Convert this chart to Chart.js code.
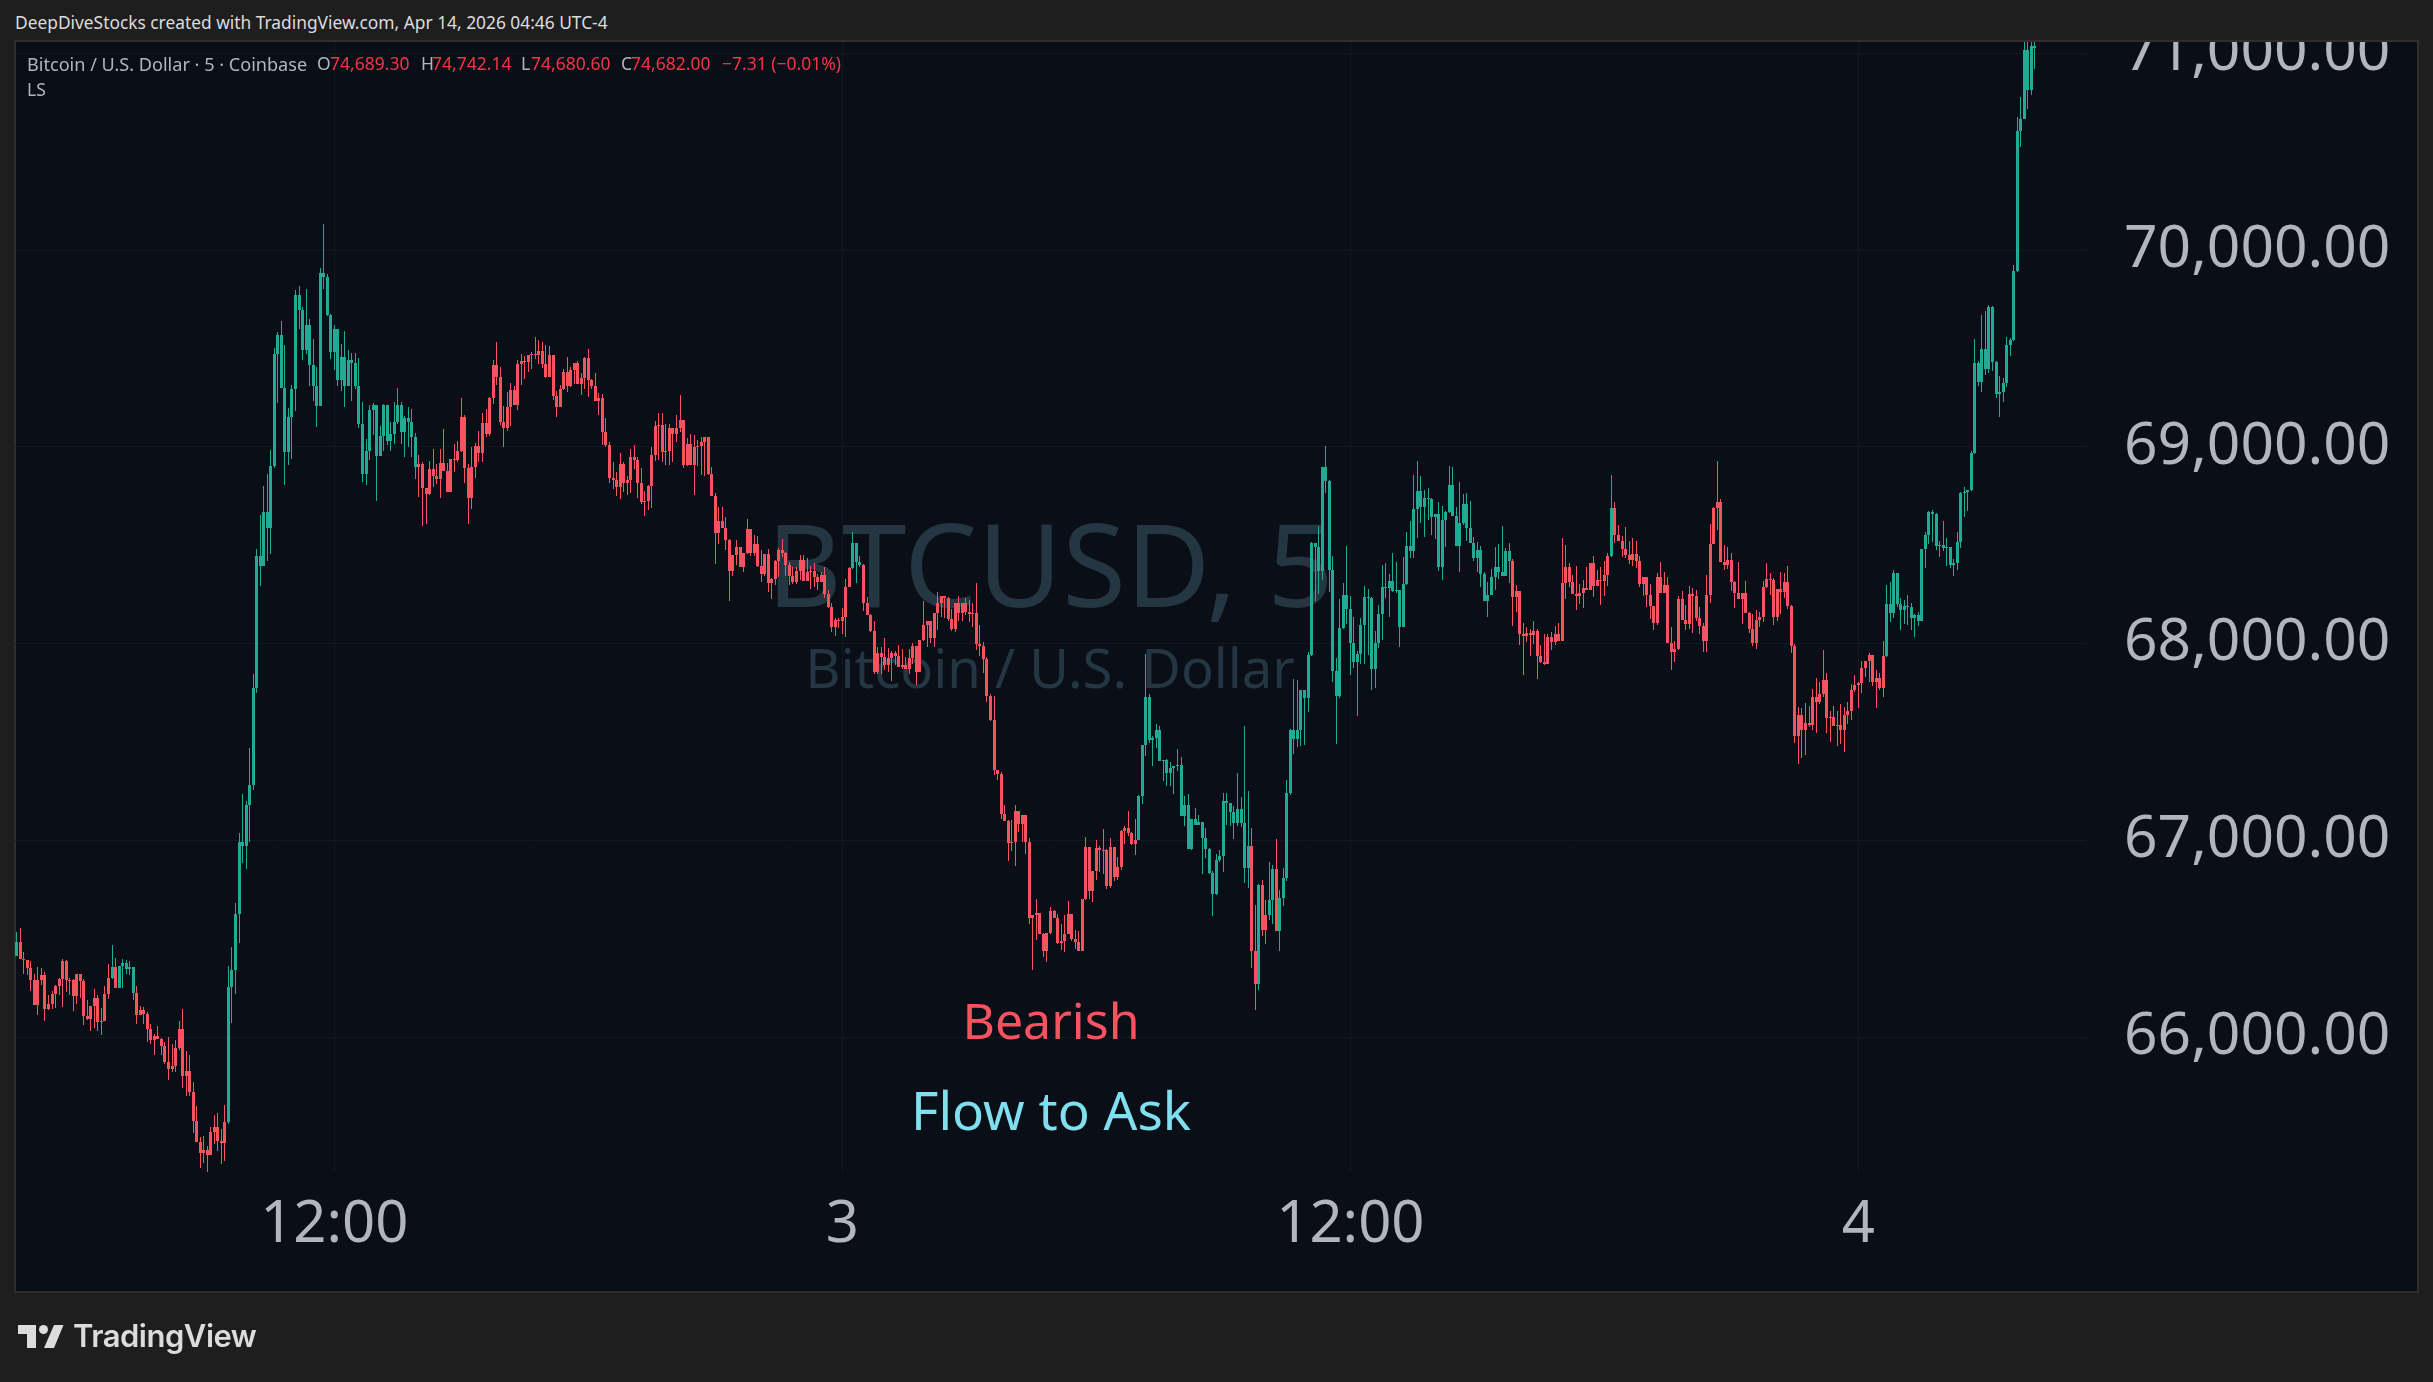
<!DOCTYPE html>
<html><head><meta charset="utf-8"><title>BTCUSD 5</title>
<script src="https://cdn.jsdelivr.net/npm/chart.js@4"></script>
<style>
html,body{margin:0;padding:0;background:#1e1e1e;width:2433px;height:1382px;overflow:hidden;font-family:"Noto Sans",sans-serif}
.a{position:absolute;white-space:nowrap;line-height:1}
#pane{left:14px;top:40px;width:2401px;height:1249px;background:#0a0e17;border:2px solid #2e2e2e;z-index:0}
#cv{position:absolute;left:0;top:0;z-index:1}
#top{left:0;top:0;width:2433px;height:40px;background:#1e1e1e;z-index:2}
#topline{left:14px;top:40px;width:2405px;height:2px;background:#2e2e2e;z-index:2}
.wm{color:#233642;z-index:0;transform:translateX(-50%);left:1050px}
.lg{font-size:17.500px;color:#b2b5be;z-index:3}
.rd{color:#f23645}
.note{z-index:3;font-size:50px;transform:translateX(-50%);left:1051px}
</style></head><body>
<div class="a" id="pane"></div>
<div class="a wm" style="top:504px;font-size:116px">BTCUSD, 5</div>
<div class="a wm" style="top:640px;font-size:54.400px">Bitcoin / U.S. Dollar</div>
<canvas id="cv" width="2433" height="1382"></canvas>
<div class="a" id="top"></div><div class="a" id="topline"></div>
<div class="a lg" style="left:15px;top:14px;color:#dcdcdc;z-index:3;font-size:17.350px">DeepDiveStocks created with TradingView.com, Apr 14, 2026 04:46 UTC-4</div>
<div class="a lg" style="left:27px;top:55px;font-size:18.100px">Bitcoin / U.S. Dollar · 5 · Coinbase</div>
<div class="a lg" style="left:317px;top:55px">O</div><div class="a lg rd" style="left:330px;top:55px">74,689.30</div>
<div class="a lg" style="left:421px;top:55px">H</div><div class="a lg rd" style="left:432px;top:55px">74,742.14</div>
<div class="a lg" style="left:521px;top:55px">L</div><div class="a lg rd" style="left:531px;top:55px">74,680.60</div>
<div class="a lg" style="left:621px;top:55px">C</div><div class="a lg rd" style="left:631px;top:55px">74,682.00</div>
<div class="a lg rd" style="left:722px;top:55px">−7.31 (−0.01%)</div>
<div class="a lg" style="left:27px;top:81px">LS</div>
<div class="a note" style="top:995px;color:#f7525f">Bearish</div>
<div class="a note" style="top:1083px;color:#7fdfee;font-size:53px">Flow to Ask</div>
<svg class="a" style="left:18px;top:1325px;z-index:3" width="46" height="24" viewBox="0 0 46 24"><path fill="#dcdcdc" d="M0 0H18V23H9V9H0ZM36 0H45.500L36 23H26Z"/><circle cx="25.500" cy="4.500" r="4.500" fill="#dcdcdc"/></svg>
<div class="a" style="left:73px;top:1320px;z-index:3;font-family:Inter,sans-serif;font-weight:600;font-size:31px;letter-spacing:-.5px;color:#dcdcdc">TradingView</div>
<script>
const firstOpen = 66413;
const closes = [
66484,66398,66393,66352,66291,66164,66291,66317,66144,66169,
66220,66261,66296,66388,66291,66290,66210,66322,66286,66108,
66093,66159,66200,66078,66083,66220,66302,66357,66251,66363,
66378,66347,66357,66225,66113,66139,66119,66042,65986,66007,
65992,65956,65875,65839,65854,65946,66042,65803,65829,65722,
65575,65468,65412,65427,65402,65519,65544,65473,65463,65570,
66256,66342,66627,66991,66971,67180,67281,67774,68445,68394,
68669,68587,68903,69473,69570,69300,68975,69153,69295,69773,
69697,69493,69621,69417,69311,69209,69885,69864,69671,69483,
69600,69341,69458,69311,69443,69427,69311,69117,68863,68980,
69189,69214,68955,69056,69214,69031,69067,69128,69214,69077,
69148,69128,69051,68899,68914,68792,68762,68889,68853,68838,
68919,68879,68772,68940,68934,68980,69153,68894,68741,68899,
69006,68970,69123,69067,69250,69417,69356,69128,69097,69204,
69290,69214,69422,69438,69433,69468,69473,69468,69488,69422,
69356,69468,69260,69204,69295,69382,69311,69392,69427,69321,
69351,69453,69341,69311,69234,69250,69077,69011,68843,68833,
68797,68914,68818,68833,68950,68934,68818,68721,68726,68803,
68956,69104,69109,68976,68981,69094,69063,69094,69134,68910,
69012,68910,68997,69002,69022,69048,68864,68752,68563,68624,
68589,68527,68369,68451,68492,68390,68461,68583,68461,68507,
68395,68354,68456,68308,68328,68420,68476,68461,68400,68344,
68313,68369,68425,68318,68364,68369,68339,68313,68349,68252,
68186,68084,68119,68114,68135,68288,68385,68512,68415,68400,
68206,68145,68063,67854,67951,67931,67890,67926,67951,67936,
67880,67890,67870,67926,67987,67854,68017,68094,68114,68028,
68155,68206,68242,68232,68124,68074,68206,68155,68206,68160,
68150,68155,67997,67987,67920,67732,67613,67358,67337,67134,
67098,66987,66992,67149,67083,67129,66992,66606,66621,66631,
66525,66438,66530,66641,66606,66479,66489,66525,66626,66499,
66484,66438,66702,66966,66743,66844,66961,66951,66951,66768,
66966,66814,66865,67047,67063,67037,66981,67002,67225,67484,
67728,67509,67519,67560,67403,67408,67342,67367,67377,67382,
67124,67179,66956,67108,67078,67093,67012,66956,66834,66728,
66900,66921,67200,67190,67144,67088,67159,67088,66860,66971,
66438,66271,66773,66545,66621,66697,66855,66540,66707,66809,
67240,67560,67514,67560,67763,67723,67941,68510,68492,68369,
68895,68828,68374,67859,67732,68079,68247,68175,68002,67905,
67946,68094,68237,68232,67869,68002,68150,68288,68283,68318,
68267,68272,68084,68303,68497,68471,68685,68777,68696,68742,
68737,68645,68660,68390,68629,68670,68808,68650,68497,68614,
68711,68589,68512,68436,68476,68354,68216,68247,68339,68390,
68364,68344,68471,68420,68237,68267,68048,68038,68053,68043,
68063,67936,67905,67895,68033,68007,68048,68012,68308,68390,
68313,68252,68242,68257,68283,68272,68410,68293,68323,68318,
68349,68446,68691,68553,68522,68481,68451,68425,68456,68420,
68303,68339,68247,68191,68104,68339,68257,68298,68002,67956,
67971,68226,68119,68099,68252,68242,68130,68089,68012,68247,
68507,68691,68721,68415,68400,68425,68313,68257,68226,68257,
68155,68073,68002,68119,68135,68288,68328,68323,68135,68277,
68262,68313,68191,67987,67528,67635,67563,67599,67584,67727,
67701,67742,67813,67620,67625,67579,67584,67563,67635,67660,
67762,67788,67798,67875,67910,67941,67803,67824,67773,67936,
68201,68155,68359,68201,68170,68191,68186,68130,68145,68114,
68481,68553,68670,68660,68497,68502,68487,68492,68400,68410,
68517,68767,68772,68782,68966,69428,69327,69499,69393,69712,
69433,69266,69276,69322,69519,69545,69895,70606,70667,71017,
70814,71037,71027];
const highs = [
66537,66556,66434,66393,66388,66322,66357,66352,66332,66215,
66235,66266,66302,66398,66393,66302,66296,66322,66322,66296,
66190,66159,66246,66215,66149,66261,66373,66469,66403,66363,
66398,66393,66388,66357,66261,66159,66154,66129,66068,66017,
66058,65997,65976,66002,65966,65986,66083,66144,65931,65910,
65773,65651,65493,65499,65448,65544,65605,65615,65534,65656,
66363,66459,66683,67036,67235,67200,67469,67845,68481,68653,
68801,68863,68985,69504,69585,69641,69519,69199,69316,69798,
69819,69712,69803,69651,69549,69407,69910,70134,69880,69676,
69621,69600,69524,69590,69493,69478,69478,69453,69229,69041,
69214,69224,69214,69107,69219,69214,69128,69229,69300,69229,
69158,69204,69194,69072,68960,68924,68792,68929,68990,68914,
68990,69092,68919,68940,69016,69031,69250,69163,68914,69001,
69021,69082,69173,69194,69255,69443,69534,69407,69209,69280,
69326,69311,69443,69473,69463,69468,69483,69560,69544,69534,
69519,69514,69468,69285,69316,69397,69458,69407,69427,69438,
69377,69458,69499,69346,69377,69275,69270,69148,69026,68924,
68873,68970,68924,68853,68990,69011,68950,68890,68777,68808,
68997,69129,69170,69170,69114,69114,69094,69160,69262,69134,
69043,69063,69058,69037,69048,69048,69048,68895,68767,68696,
68696,68645,68532,68451,68527,68492,68461,68634,68583,68553,
68548,68476,68456,68481,68334,68425,68487,68532,68466,68415,
68390,68390,68451,68451,68436,68395,68410,68354,68364,68390,
68272,68206,68130,68130,68181,68328,68390,68568,68512,68446,
68405,68237,68150,68114,67982,67982,68028,67977,67961,67961,
67992,67971,67931,67971,68002,67987,68017,68216,68114,68114,
68155,68262,68242,68242,68237,68175,68206,68242,68206,68232,
68221,68206,68308,68094,68007,67931,67742,67734,67358,67347,
67179,67103,67103,67179,67149,67129,67124,67012,66621,66702,
66631,66530,66530,66662,66646,66626,66575,66621,66692,66626,
66545,66540,66702,67017,66961,66844,67002,66971,67058,66956,
67012,66966,66915,67052,67073,67149,67042,67108,67230,67484,
67946,67743,67530,67591,67580,67408,67413,67398,67377,67464,
67423,67225,67235,67108,67164,67129,67093,67063,66961,66844,
66931,66951,67240,67240,67190,67174,67342,67220,67580,67250,
67063,66672,66778,66799,66697,66890,66875,67007,66748,66860,
67306,67565,67819,67814,67763,67763,67956,68517,68492,68599,
68895,69002,68833,68446,67926,68226,68308,68497,68242,68135,
67961,68130,68293,68277,68237,68063,68196,68400,68410,68354,
68461,68415,68272,68441,68568,68624,68859,68930,68854,68782,
68793,68742,68660,68721,68701,68675,68900,68895,68696,68823,
68762,68767,68726,68543,68517,68497,68364,68313,68380,68492,
68507,68599,68487,68512,68430,68298,68267,68104,68084,68073,
68114,68073,67992,68048,68048,68058,68089,68104,68538,68502,
68410,68349,68395,68303,68323,68390,68410,68446,68374,68390,
68420,68461,68859,68721,68604,68548,68594,68522,68538,68522,
68446,68339,68339,68303,68191,68359,68415,68364,68339,68084,
68012,68242,68267,68196,68293,68283,68272,68186,68104,68349,
68609,68696,68930,68737,68502,68492,68461,68318,68415,68257,
68318,68160,68150,68170,68160,68318,68410,68359,68334,68277,
68364,68359,68395,68196,67997,67676,67671,67696,67681,67767,
67824,67803,67966,67849,67655,67681,67655,67691,67676,67701,
67793,67839,67803,67910,67910,67951,67936,67864,67849,68012,
68298,68313,68374,68359,68232,68221,68247,68206,68150,68160,
68481,68568,68675,68680,68663,68522,68624,68538,68487,68430,
68568,68772,68798,68782,68981,69550,69438,69672,69692,69723,
69717,69438,69362,69352,69560,69555,69926,70677,70778,71063,
71068,71068,71100];
const lows = [
66413,66398,66322,66317,66235,66164,66113,66266,66083,66139,
66144,66149,66215,66154,66230,66215,66134,66169,66200,66063,
66088,66032,66047,66032,66012,66083,66195,66296,66251,66256,
66251,66322,66317,66190,66068,66113,66068,65976,65966,65910,
65992,65910,65864,65783,65824,65824,65936,65743,65702,65702,
65514,65468,65336,65361,65316,65402,65458,65422,65356,65372,
65560,66073,66220,66479,66885,66854,66992,67256,67749,68293,
68394,68420,68455,68894,69224,69300,68807,68909,68940,69183,
69600,69443,69473,69311,69234,69102,69209,69803,69666,69448,
69392,69311,69285,69204,69311,69234,69295,69097,68823,68807,
68934,69062,68726,68980,68980,69011,68980,69016,69117,69016,
68950,69001,68950,68838,68746,68600,68610,68757,68797,68812,
68741,68879,68772,68772,68873,68924,68975,68818,68610,68685,
68843,68924,68924,69051,69056,69219,69316,69112,69001,69082,
69107,69214,69189,69316,69346,69382,69397,69448,69422,69402,
69351,69356,69239,69153,69204,69290,69280,69305,69321,69321,
69265,69295,69255,69295,69234,69163,69011,69001,68818,68787,
68751,68736,68772,68757,68767,68889,68741,68711,68646,68680,
68691,68930,68935,68923,68910,68910,68925,69022,69073,68890,
68905,68910,68757,68900,68859,68854,68859,68748,68405,68507,
68589,68476,68216,68344,68400,68390,68364,68456,68446,68446,
68390,68313,68344,68262,68226,68298,68339,68441,68344,68298,
68303,68303,68323,68318,68323,68277,68288,68272,68313,68232,
68181,68058,68038,68079,68048,68033,68288,68380,68308,68390,
68165,68145,68058,67844,67844,67844,67864,67854,67808,67890,
67880,67870,67870,67844,67895,67788,67854,68012,67982,68002,
67982,68068,68135,68130,68114,68063,68058,68114,68114,68145,
68109,68084,67966,67936,67851,67701,67609,67333,67307,67108,
67098,66895,66946,66870,67042,66992,66931,66575,66342,66494,
66525,66408,66382,66525,66606,66474,66443,66433,66525,66489,
66448,66438,66438,66697,66702,66687,66799,66839,66829,66753,
66758,66794,66799,66849,66981,67022,66976,66926,67002,67184,
67428,67494,67377,67469,67403,67301,67276,67276,67235,67352,
67124,67073,66956,66951,67078,67078,66829,66910,66829,66616,
66723,66890,66839,67078,67073,67007,67073,67068,66783,66758,
66352,66139,66240,66514,66474,66596,66575,66540,66438,66667,
66794,67230,67438,67474,67479,67484,67651,67936,68216,68252,
68323,68767,68262,67803,67490,67722,68074,68099,67839,67875,
67630,67895,67895,67941,67762,67773,67977,68017,68232,68135,
68262,68257,67982,68084,68298,68436,68436,68538,68614,68543,
68629,68553,68532,68369,68323,68492,68665,68650,68497,68364,
68604,68522,68512,68420,68364,68288,68216,68135,68247,68272,
68328,68344,68349,68308,68089,68160,67992,67839,68007,67936,
67997,67818,67900,67890,67895,67966,67992,68012,68012,68226,
68288,68252,68170,68201,68181,68272,68272,68237,68293,68196,
68242,68293,68441,68512,68522,68441,68436,68405,68395,68385,
68288,68242,68186,68124,68068,68094,68257,68257,68002,67864,
67905,67966,68119,68068,68073,68053,68114,68048,67956,67956,
68206,68507,68578,68415,68374,68380,68267,68181,68226,68099,
68155,68053,67987,67971,68084,68109,68283,68247,68094,68114,
68150,68232,68175,67951,67495,67390,67421,67436,67574,67563,
67548,67691,67727,67548,67502,67579,67482,67492,67451,67589,
67614,67752,67671,67747,67829,67803,67783,67671,67762,67727,
67931,68109,68130,68186,68068,68099,68094,68068,68033,68089,
68114,68385,68507,68517,68476,68441,68471,68395,68385,68344,
68374,68487,68645,68675,68777,68961,69311,69281,69367,69377,
69387,69250,69149,69230,69306,69459,69540,69890,70525,70667,
70717,70788,70920];
const flowRuns = [['up',1],['down',26],['up',1],['down',1],['up',5],['down',26],['up',54],['down',123],['up',3],['down',78],['up',32],['down',2],['up',1],['down',2],['up',2],['down',1],['up',66],['down',28],['up',1],['down',77],['up',43]];
const xTickLabels = {90:'12:00',234:'3',378:'12:00',522:'4'};
const yTicks = [66000,67000,68000,69000,70000,71000];
const slotCount = 587;

const UP='#22ab94', DOWN='#f7525f', TXT='#b2b5be', GRID='#14181f';
const flow=[]; flowRuns.forEach(([k,n])=>{for(let j=0;j<n;j++)flow.push(k)});
const colors=flow.map(k=>k==='up'?UP:DOWN);
const opens=closes.map((c,i)=>i?closes[i-1]:firstOpen);
const categories=Array.from({length:slotCount},(_,i)=>{const m=270+i*5,d=2+Math.floor(m/1440),t=m%1440;return 'Apr '+d+' '+String(Math.floor(t/60)).padStart(2,'0')+':'+String(t%60).padStart(2,'0')});
const noPad=s=>{s.paddingTop=s.paddingBottom=s.paddingLeft=s.paddingRight=0};
const snap={id:'snap',afterDatasetsUpdate(ch){ch.data.datasets.forEach((d,k)=>{const w=d.barThickness;ch.getDatasetMeta(k).data.forEach(el=>{
  if(el.skip)return;el.x=Math.floor(el.x)+(w%2?0.5:0);let a=Math.round(Math.min(el.y,el.base)),b=Math.round(Math.max(el.y,el.base));if(b-a<1)b=a+1;el.y=a;el.base=b;el.height=b-a;});});}};
new Chart(document.getElementById('cv'),{type:'bar',plugins:[snap],
 data:{labels:categories,datasets:[
  {label:'Wick',data:lows.map((l,i)=>[l,highs[i]]),backgroundColor:colors,barThickness:1,grouped:false,inflateAmount:0,borderWidth:0},
  {label:'Body',data:opens.map((o,i)=>[o,closes[i]]),backgroundColor:colors,barThickness:3,grouped:false,inflateAmount:0,borderWidth:0}]},
 options:{responsive:false,animation:false,events:[],devicePixelRatio:1,
  layout:{padding:{left:15,right:14,top:42,bottom:90}},
  plugins:{legend:{display:false},tooltip:{enabled:false},title:{display:false}},
  scales:{
   x:{type:'category',offset:true,border:{display:false},
      grid:{color:GRID,lineWidth:1,drawTicks:false,offset:false},
      afterFit(s){s.height=120;noPad(s)},
      ticks:{autoSkip:false,maxRotation:0,minRotation:0,padding:19,color:TXT,font:{family:'"Noto Sans"',size:58},
        callback(v,i){return xTickLabels[i]??null}}},
   y:{position:'right',min:65315,max:71057,border:{display:false},
      grid:{color:GRID,lineWidth:1,drawTicks:false},
      afterFit(s){s.width=333;noPad(s)},
      afterBuildTicks(s){s.ticks=yTicks.map(v=>({value:v}))},
      ticks:{padding:38,crossAlign:'near',labelOffset:0,color:TXT,font:{family:'"Noto Sans"',size:58.700},
        callback(v){return Number(v).toLocaleString('en-US',{minimumFractionDigits:2,maximumFractionDigits:2})}}}
  }}});
</script></body></html>
